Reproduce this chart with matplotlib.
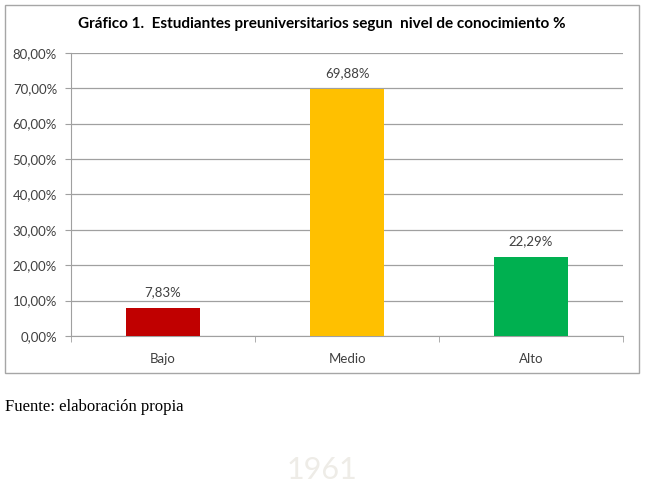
import matplotlib.pyplot as plt
from matplotlib.patches import Rectangle
from matplotlib.ticker import FuncFormatter, FixedLocator

# --- Data ---
categories = ["Bajo", "Medio", "Alto"]
values = [7.83, 69.88, 22.29]
colors = ["#C00000", "#FFC000", "#00B050"]
y_ticks = [0, 10, 20, 30, 40, 50, 60, 70, 80]

title = "Gráfico 1.  Estudiantes preuniversitarios segun  nivel de conocimiento %"
source = "Fuente: elaboración propia"

plt.rcParams['font.family'] = ['Lato', 'DejaVu Sans']

fig = plt.figure(figsize=(6.48, 4.87), dpi=100)
W, H = 648, 487

# faint watermark remnant
fig.text(322 / W, 1 - 470 / H, "1961", fontsize=22, color="#EEECE7",
         ha="center", va="center", zorder=0)

# outer chart frame
fig.patches.append(Rectangle((5 / W, 1 - 373 / H), 634 / W, 368 / H,
                             transform=fig.transFigure, fill=False,
                             edgecolor="#A6A6A6", lw=1.0, zorder=1))

ax = fig.add_axes([71 / W, 1 - 336 / H, 552 / W, 283.3 / H])
ax.patch.set_alpha(0)

x = range(len(categories))
ax.bar(x, values, width=0.4, color=colors, zorder=3)

for i, v in enumerate(values):
    ax.annotate(f"{v:.2f}%".replace(".", ","), (i, v), xytext=(0, 7),
                textcoords="offset points", ha="center", va="bottom",
                fontsize=9.5, color="#404040")

ax.set_xlim(-0.5, 2.5)
ax.set_ylim(0, 80)
ax.set_yticks(y_ticks)
ax.yaxis.set_major_formatter(FuncFormatter(lambda v, p: f"{v:.2f}%".replace(".", ",")))
ax.grid(axis="y", color="#A0A0A0", lw=0.9, zorder=0)

ax.set_xticks(list(x))
ax.set_xticklabels(categories)
ax.xaxis.set_minor_locator(FixedLocator([-0.5, 0.5, 1.5, 2.5]))
ax.tick_params(axis="x", which="major", length=0, pad=12, labelsize=9.5, labelcolor="#404040")
ax.tick_params(axis="x", which="minor", length=4, color="#A0A0A0", direction="out")
ax.tick_params(axis="y", length=4, color="#A0A0A0", labelsize=9.5, labelcolor="#404040", pad=6)

for s in ["top", "right"]:
    ax.spines[s].set_visible(False)
ax.spines["left"].set_color("#A0A0A0")
ax.spines["bottom"].set_color("#A0A0A0")

fig.text(322 / W, 1 - 24 / H, title, ha="center", va="center",
         fontsize=11, fontweight="bold", color="#000000")

fig.text(5 / W, 1 - 407 / H, source, ha="left", va="center",
         fontsize=12, family=["Liberation Serif", "DejaVu Serif"])

fig.savefig("out.png", dpi=100)
